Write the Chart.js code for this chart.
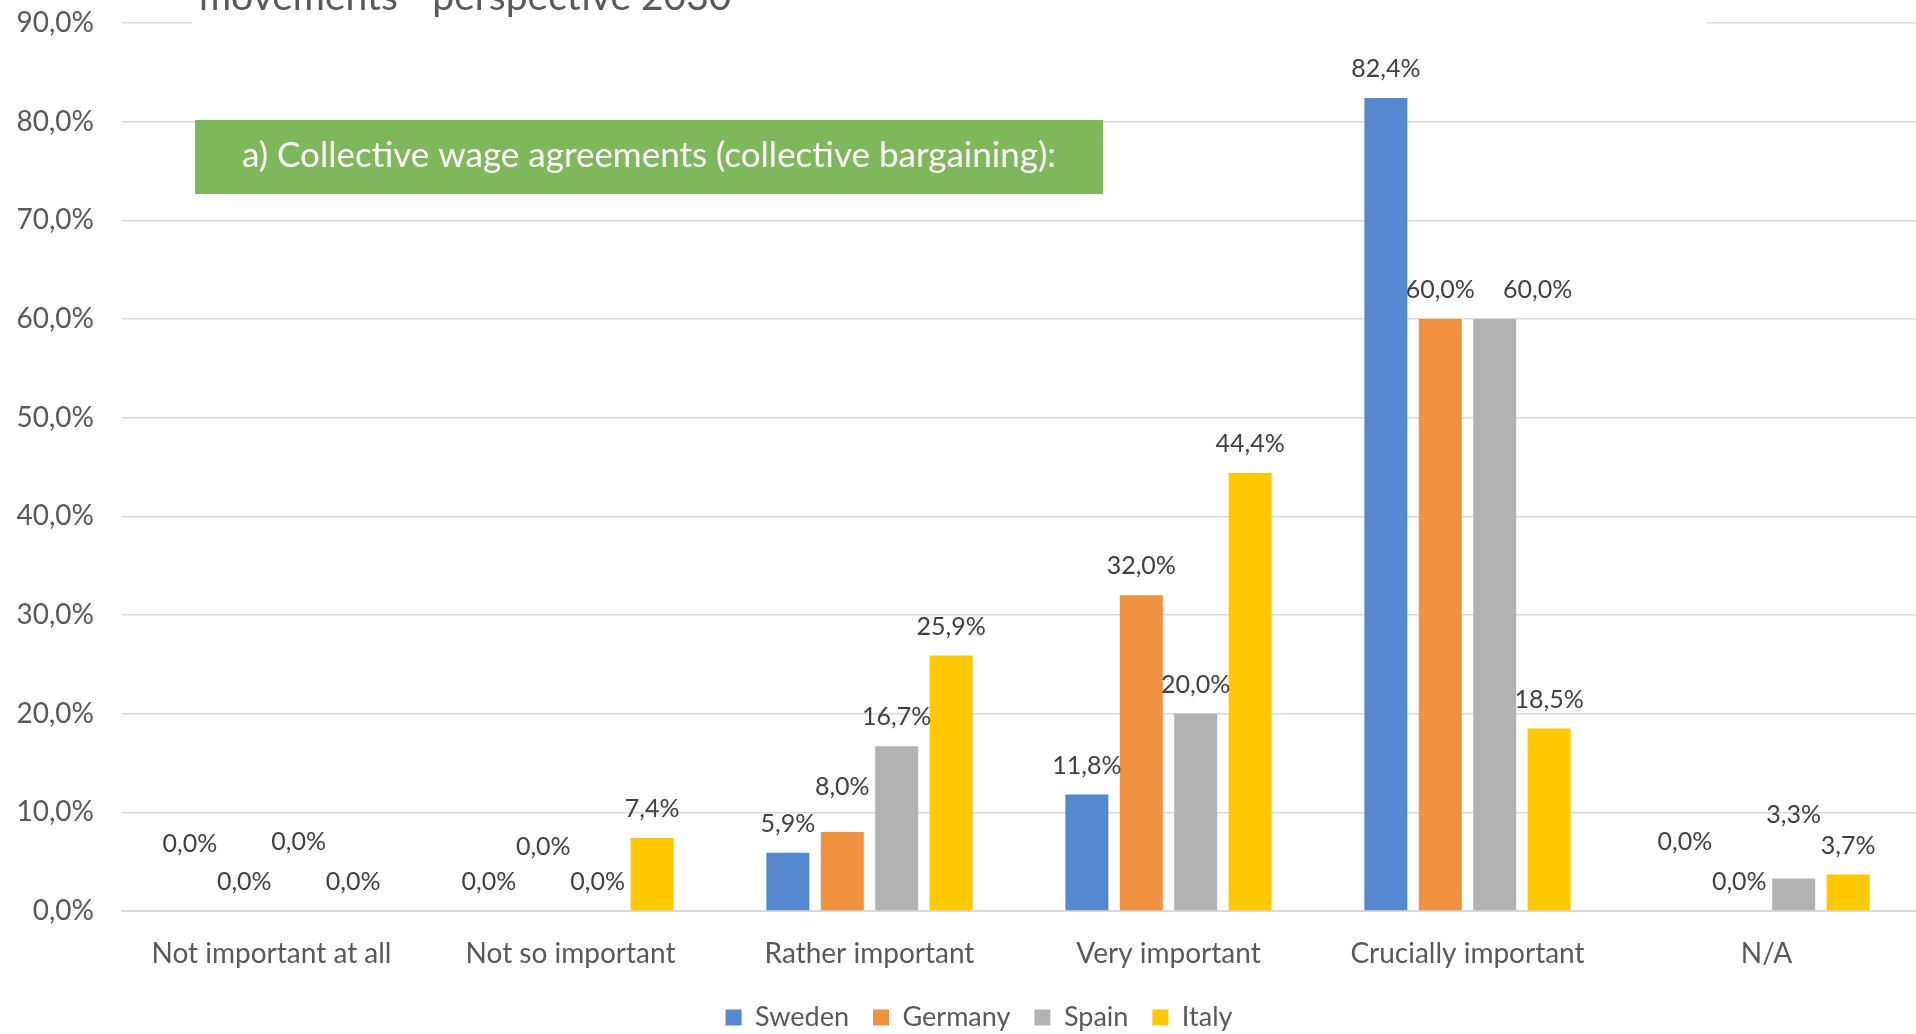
<!DOCTYPE html>
<html>
<head>
<meta charset="utf-8">
<title>Collective wage agreements</title>
<script src="https://cdn.jsdelivr.net/npm/chart.js@4.4.1/dist/chart.umd.min.js"></script>
<style>
  html, body { margin: 0; padding: 0; background: #fff; }
  #wrap { width: 1916px; height: 1034px; position: relative; }
</style>
</head>
<body>
<div id="wrap"><canvas id="chart"></canvas></div>
<script>
// answers per country, in percent
const categories = ['Not important at all', 'Not so important', 'Rather important', 'Very important', 'Crucially important', 'N/A'];
const sweden  = [0.0, 0.0, 5.9, 11.8, 82.4, 0.0];
const germany = [0.0, 0.0, 8.0, 32.0, 60.0, 0.0];
const spain   = [0.0, 0.0, 16.7, 20.0, 60.0, 3.3];
const italy   = [0.0, 7.4, 25.9, 44.4, 18.5, 3.7];
const yTicks  = [0, 10, 20, 30, 40, 50, 60, 70, 80, 90];

const titleText = 'movements - perspective 2030';
const boxText = 'a) Collective wage agreements (collective bargaining):';

// extra label offsets [dx, dy] so overlapping labels stay readable
const labelShift = [
  [[0, -38], [0, 0], [0, 0], [0, 0], [0, 0], [0, -40]],
  [[0, 0], [0, -35], [0, -16], [0, 0], [0, 0], [0, 0]],
  [[0, -40], [0, 0], [0, 0], [0, 0], [43, 0], [0, -35]],
  [[0, 0], [0, 0], [0, 0], [0, 0], [0, 0], [0, 0]]
];

const FONT = 'Lato, "Open Sans", sans-serif';
const fmt = v => v.toFixed(1).replace('.', ',') + '%';

const valueLabels = {
  id: 'valueLabels',
  afterDatasetsDraw(chart) {
    const ctx = chart.ctx;
    ctx.save();
    ctx.font = '25px ' + FONT;
    ctx.fillStyle = '#404040';
    ctx.textAlign = 'center';
    ctx.textBaseline = 'middle';
    chart.data.datasets.forEach((ds, di) => {
      chart.getDatasetMeta(di).data.forEach((bar, i) => {
        const s = labelShift[di][i];
        ctx.fillText(fmt(ds.data[i]), bar.x + s[0], bar.y - 29 + s[1]);
      });
    });
    ctx.restore();
  }
};

// nudge the legend a little right of centre
const legendShift = {
  id: 'legendShift',
  afterLayout(chart) {
    chart.legend.left += 21;
    chart.legend.right += 21;
  }
};

const overlays = {
  id: 'overlays',
  afterDraw(chart) {
    const ctx = chart.ctx;
    ctx.save();
    // title area covers the top gridline
    ctx.fillStyle = '#ffffff';
    ctx.fillRect(192, 0, 1515, 34);
    ctx.fillStyle = '#595959';
    ctx.font = '39px ' + FONT;
    ctx.textBaseline = 'alphabetic';
    ctx.textAlign = 'left';
    ctx.fillText(titleText, 199, 10);
    // green caption box
    ctx.fillStyle = '#7fb85a';
    ctx.fillRect(195, 120, 908, 74);
    ctx.fillStyle = '#ffffff';
    ctx.font = '35px ' + FONT;
    ctx.textBaseline = 'middle';
    ctx.fillText(boxText, 242, 156);
    ctx.restore();
  }
};

new Chart(document.getElementById('chart'), {
  type: 'bar',
  data: {
    labels: categories,
    datasets: [
      { label: 'Sweden', data: sweden, backgroundColor: '#5588cf' },
      { label: 'Germany', data: germany, backgroundColor: '#f09140' },
      { label: 'Spain', data: spain, backgroundColor: '#b2b2b2' },
      { label: 'Italy', data: italy, backgroundColor: '#ffc800' }
    ]
  },
  options: {
    responsive: true,
    maintainAspectRatio: false,
    animation: false,
    layout: { padding: { top: 23, right: 0, left: 0, bottom: -7 } },
    datasets: { bar: { categoryPercentage: 0.728, barPercentage: 0.79 } },
    scales: {
      x: {
        grid: { display: false },
        border: { color: '#d9d9d9', width: 2 },
        ticks: { color: '#595959', font: { family: FONT, size: 28 }, padding: 18 },
        afterFit(scale) { scale.height = 69; }
      },
      y: {
        min: 0,
        max: 90,
        afterBuildTicks(scale) { scale.ticks = yTicks.map(v => ({ value: v })); },
        grid: { color: '#d9d9d9', lineWidth: 1.5, drawTicks: false },
        border: { display: false },
        ticks: {
          color: '#595959',
          font: { family: FONT, size: 28 },
          padding: 28,
          callback: v => fmt(v)
        },
        afterFit(scale) {
          scale.width = 122;
          scale.paddingTop = 0;
          scale.paddingBottom = 0;
        }
      }
    },
    plugins: {
      legend: {
        position: 'bottom',
        labels: {
          color: '#595959',
          font: { family: FONT, size: 27 },
          boxWidth: 16,
          boxHeight: 16,
          padding: 24
        }
      },
      tooltip: { enabled: false }
    }
  },
  plugins: [valueLabels, legendShift, overlays]
});
</script>
</body>
</html>
